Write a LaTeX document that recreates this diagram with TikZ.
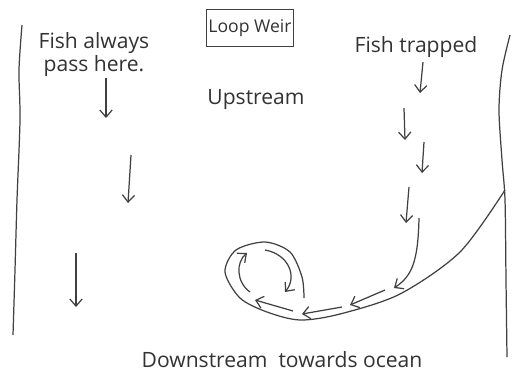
\documentclass[tikz,border=0pt]{standalone}
\usepackage{fontspec}
\setmainfont{Open Sans}
\usetikzlibrary{arrows.meta}

\begin{document}
\begin{tikzpicture}[x=0.02cm,y=-0.02cm,line width=0.7pt,draw=black!75,
  flow/.style={-{Straight Barb[length=4pt,width=7pt]}},
  lbl/.style={font=\large,text=black!80,inner sep=1pt}]
  \useasboundingbox (0,0) rectangle (514,373);

  % Ufer
  \draw plot[smooth] coordinates {(22,25) (19,70) (20,120) (17,200) (15,270) (13,335)};
  \draw plot[smooth] coordinates {(510,35) (502,70) (499,110) (502,160) (505,200) (506,280) (507,357)};

  % Schleife
  \draw plot[smooth] coordinates {(505,190) (460,252) (400,294) (340,314) (300,320) (267,312)
    (240,298) (225,272) (236,250) (265,242) (290,252) (302,277) (304,298)};

  % Texte
  \node[lbl] (always) at (94,43) {Fish always};
  \node[lbl] (pass) at (94,66) {pass here.};
  \node[lbl,draw,font=\normalsize,minimum width=86*0.02cm,minimum height=37*0.02cm] (weir) at (250,28) {Loop Weir};
  \node[lbl] (up) at (256,100) {Upstream};
  \node[lbl] (trapped) at (416,47) {Fish trapped};
  \node[lbl] (down) at (282,360) {Downstream\ \ towards ocean};

  % links
  \draw[flow] (106,78) -- (106,118);
  \draw[flow] (131,155) -- (128,203);
  \draw[flow] (76,253) -- (76,307);

  % rechts
  \draw[flow] (423,62) -- (420,93);
  \draw[flow] (404,108) -- (405,140);
  \draw[flow] (424,142) -- (422,173);
  \draw[flow] (409,187) -- (406,223);
  \draw[flow] (419,218) .. controls (418,262) and (412,276) .. (394,288);
  \draw[flow] (385,290) -- (350,305);
  \draw[flow] (342,307) -- (302,314);
  \draw[flow] (293,311) -- (255,300);

  % innen
  \draw[flow] (265,250) .. controls (288,254) and (298,276) .. (285,292);
  \draw[flow] (250,292) .. controls (236,282) and (236,262) .. (247,253);
\end{tikzpicture}
\end{document}
